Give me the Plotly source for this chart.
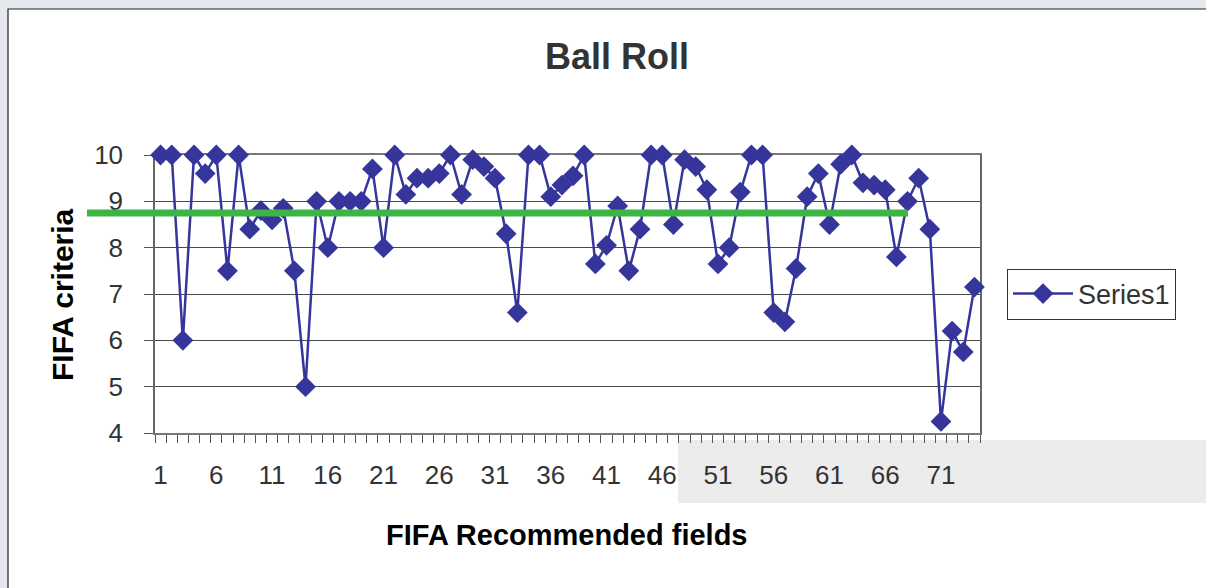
import plotly.graph_objects as go

# ---- data ----
fields = list(range(1, 75))
ball_roll = [10, 10, 6, 10, 9.6, 10, 7.5, 10, 8.4, 8.8,
             8.6, 8.85, 7.5, 5, 9, 8, 9, 9, 9, 9.7,
             8, 10, 9.15, 9.5, 9.5, 9.6, 10, 9.15, 9.9, 9.75,
             9.5, 8.3, 6.6, 10, 10, 9.1, 9.35, 9.55, 10, 7.65,
             8.05, 8.9, 7.5, 8.4, 10, 10, 8.5, 9.9, 9.75, 9.25,
             7.65, 8.0, 9.2, 10, 10, 6.6, 6.4, 7.55, 9.1, 9.6,
             8.5, 9.8, 10, 9.4, 9.35, 9.25, 7.8, 9.0, 9.5, 8.4,
             4.25, 6.2, 5.75, 7.15]
x_tick_vals = list(range(1, 75, 5))
x_tick_text = [str(v) for v in x_tick_vals]
y_tick_vals = [4, 5, 6, 7, 8, 9, 10]
reference_level = 8.75
series_name = "Series1"

# ---- layout geometry (pixels) ----
W, H = 1206, 588
L, R, T, B = 155, 980, 155, 433
pw, ph = R - L, B - T

def px(x):
    return (x - L) / pw

def py(y):
    return (B - y) / ph

FONT = "Liberation Sans, Arial, sans-serif"
BLUE = "#35359b"

fig = go.Figure()
fig.add_trace(go.Scatter(
    x=fields, y=ball_roll, mode="lines+markers", name=series_name,
    line=dict(color=BLUE, width=2.5),
    marker=dict(symbol="diamond", size=16, color=BLUE),
    cliponaxis=False,
))

shapes = [
    # white chart frame
    dict(type="rect", xref="paper", yref="paper", layer="below",
         x0=px(8), x1=px(1220), y0=py(600), y1=py(9),
         fillcolor="white", line=dict(color="#222", width=1.2)),
    # light watermark strip at the bottom right
    dict(type="rect", xref="paper", yref="paper", layer="below",
         x0=px(678), x1=px(1220), y0=py(503), y1=py(440),
         fillcolor="#ececec", line=dict(width=0)),
    # green reference line
    dict(type="line", xref="paper", yref="y", layer="above",
         x0=px(87), x1=px(908), y0=reference_level, y1=reference_level,
         line=dict(color="#3db545", width=7)),
]

annotations = [
    dict(text="<b>Ball Roll</b>", xref="paper", yref="paper",
         x=px(617), y=py(57), xanchor="center", yanchor="middle",
         showarrow=False, font=dict(family=FONT, size=36, color="#333")),
    dict(text="<b>FIFA Recommended fields</b>", xref="paper", yref="paper",
         x=px(567), y=py(535), xanchor="center", yanchor="middle",
         showarrow=False, font=dict(family=FONT, size=29, color="black")),
    dict(text="<b>FIFA criteria</b>", xref="paper", yref="paper",
         x=px(62), y=py(295), xanchor="center", yanchor="middle",
         showarrow=False, textangle=-90,
         font=dict(family=FONT, size=30, color="black")),
]

fig.update_layout(
    width=W, height=H,
    margin=dict(l=L, r=W - R, t=T, b=H - B, pad=0),
    paper_bgcolor="#e5e7ee",
    plot_bgcolor="#cfcfcf",
    font=dict(family=FONT, size=26, color="#333"),
    showlegend=True,
    legend=dict(x=px(1007), y=0.5, xanchor="left", yanchor="middle",
                bgcolor="white", bordercolor="#333", borderwidth=1,
                font=dict(family=FONT, size=27, color="#333"),
                itemwidth=60),
    shapes=shapes,
    annotations=annotations,
)

fig.update_xaxes(
    range=[0.5, 74.5], tickvals=x_tick_vals, ticktext=x_tick_text,
    ticks="", showgrid=False, zeroline=False,
    showline=True, linecolor="#777", linewidth=1.5, mirror=True,
    ticklabelstandoff=18, layer="below traces",
    minor=dict(tick0=0.5, dtick=1, ticks="outside", ticklen=8,
               tickcolor="#555", tickwidth=1, showgrid=False),
    tickfont=dict(family=FONT, size=26, color="#333"),
)
fig.update_yaxes(
    range=[4, 10], tickvals=y_tick_vals,
    ticks="outside", ticklen=9, tickcolor="#555", tickwidth=1,
    showgrid=True, gridcolor="#4a4a4a", gridwidth=1, zeroline=False,
    showline=True, linecolor="#666", linewidth=1.5, mirror=True,
    ticklabelstandoff=16, layer="below traces",
    tickfont=dict(family=FONT, size=26, color="#333"),
)

fig.write_html("out.html", config={"displayModeBar": False},
               post_script="document.body.style.margin='0';document.body.style.overflow='hidden';")
